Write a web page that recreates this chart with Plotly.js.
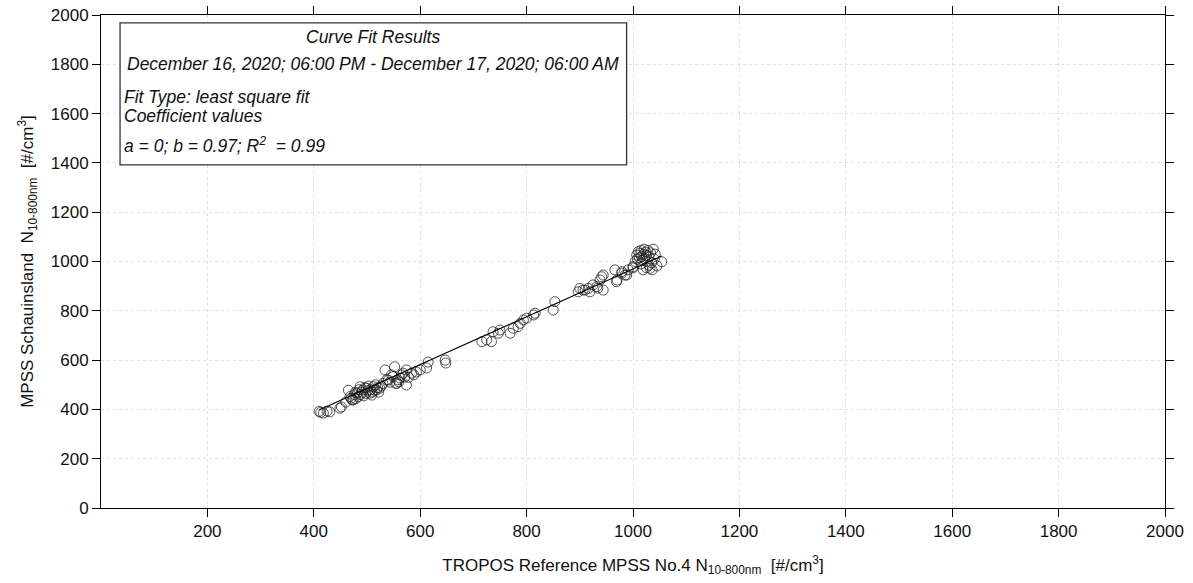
<!DOCTYPE html>
<html>
<head>
<meta charset="utf-8">
<script src="https://cdn.plot.ly/plotly-3.0.1.min.js"></script>
<style>html,body{margin:0;padding:0;background:#fff;}#chart{width:1193px;height:583px;}</style>
</head>
<body>
<div id="chart"></div>
<script>
// Reference MPSS (x) vs Schauinsland MPSS (y), #/cm3
const refX = [410,413,418,425,430,449,452,460,465,468,470,472,474,476,478,479,481,483,485,487,488,490,492,494,496,498,499,501,503,505,507,509,510,512,514,516,518,520,522,524,527,530,534,537,540,543,546,549,552,554,556,558,560,562,565,568,571,574,574,578,584,588,593,600,612,615,647,648,
716,725,734,737,747,750,769,775,784,788,794,800,813,816,850,853,
897,900,906,910,916,919,925,932,934,938,941,944,944,966,969,970,979,979,985,988,991,1000,1000,1004,1007,1010,1012,1013,1015,1016,1018,1019,1020,1021,1022,1024,1025,1026,1028,1030,1032,1033,1036,1038,1040,1042,1045,1054,1008,1015,1025,1030,1035];
const schauY = [392,388,385,393,390,405,410,430,478,452,445,438,438,460,470,443,466,452,480,492,460,470,479,455,488,465,486,475,495,466,480,458,470,492,478,500,479,488,470,486,495,505,560,520,519,510,540,533,573,505,506,520,512,527,540,547,531,560,499,530,547,540,552,560,568,592,600,588,
675,682,675,715,709,722,709,729,736,749,763,770,783,790,803,837,
877,891,884,884,891,877,905,898,892,925,938,945,884,966,918,925,959,953,945,945,966,979,974,1000,1026,1040,1015,1033,1045,1020,1005,966,1030,1050,1012,1038,1025,1000,1045,1020,972,1035,966,1050,1010,1030,982,999,1010,990,975,985,995];
// Fit coefficients
const fitA = 0;
const fitB = 0.97;
const fitR2 = 0.99;
const tickValsX = [200,400,600,800,1000,1200,1400,1600,1800,2000];
const tickValsY = [0,200,400,600,800,1000,1200,1400,1600,1800,2000];

const xmin = Math.min(...refX), xmax = Math.max(...refX);
const fitX = [xmin, xmax];
const fitY = fitX.map(v => fitA + fitB * v);

const font = 'Liberation Sans, Arial, sans-serif';
const traces = [
  {x: refX, y: schauY, type: 'scatter', mode: 'markers',
   marker: {symbol: 'circle-open', size: 10, color: 'rgba(30,30,30,0.75)', line: {width: 1}},
   hoverinfo: 'x+y', showlegend: false},
  {x: fitX, y: fitY, type: 'scatter', mode: 'lines',
   line: {color: '#000', width: 1.2}, showlegend: false}
];

const axisCommon = {
  range: [0, 2000], showline: true, linecolor: '#000', linewidth: 1, mirror: 'ticks',
  ticks: 'outside', ticklen: 8, tickcolor: '#000', tickwidth: 1,
  showgrid: true, gridcolor: '#e0e0e0', griddash: 'dot', gridwidth: 1,
  zeroline: false, tickfont: {family: font, size: 17, color: '#111'}
};

const layout = {
  width: 1193, height: 583,
  margin: {l: 101, r: 28, t: 15, b: 75},
  paper_bgcolor: '#fff', plot_bgcolor: '#fff',
  font: {family: font, color: '#111'},
  xaxis: Object.assign({}, axisCommon, {
    tickmode: 'array', tickvals: tickValsX, ticktext: tickValsX.map(String),
    title: {text: 'TROPOS Reference MPSS No.4 N<sub>10-800nm</sub>  [#/cm<sup>3</sup>]', font: {family: font, size: 17, color: '#111'}, standoff: 18}
  }),
  yaxis: Object.assign({}, axisCommon, {
    tickmode: 'array', tickvals: tickValsY, ticktext: tickValsY.map(String),
    title: {text: 'MPSS Schauinsland  N<sub>10-800nm</sub>  [#/cm<sup>3</sup>]', font: {family: font, size: 17, color: '#111'}, standoff: 12}
  }),
  shapes: [
    {type: 'rect', xref: 'paper', yref: 'paper', x0: 0.0179, x1: 0.494, y0: 0.696, y1: 0.984,
     line: {color: '#333', width: 1.3}, fillcolor: '#fff', layer: 'above'}
  ],
  annotations: [
    {xref: 'paper', yref: 'paper', x: 0.2555, y: 0.955, text: '<i>Curve Fit Results</i>', showarrow: false, xanchor: 'center', yanchor: 'middle', font: {family: font, size: 17.5, color: '#111'}},
    {xref: 'paper', yref: 'paper', x: 0.2555, y: 0.901, text: '<i>December 16, 2020; 06:00 PM - December 17, 2020; 06:00 AM</i>', showarrow: false, xanchor: 'center', yanchor: 'middle', font: {family: font, size: 17.5, color: '#111'}},
    {xref: 'paper', yref: 'paper', x: 0.0195, y: 0.834, text: '<i>Fit Type: least square fit</i>', showarrow: false, xanchor: 'left', yanchor: 'middle', font: {family: font, size: 17.5, color: '#111'}},
    {xref: 'paper', yref: 'paper', x: 0.0195, y: 0.795, text: '<i>Coefficient values</i>', showarrow: false, xanchor: 'left', yanchor: 'middle', font: {family: font, size: 17.5, color: '#111'}},
    {xref: 'paper', yref: 'paper', x: 0.0195, y: 0.736, text: '<i>a = ' + fitA + '; b = ' + fitB.toFixed(2) + '; R<sup>2</sup>  = ' + fitR2.toFixed(2) + '</i>', showarrow: false, xanchor: 'left', yanchor: 'middle', font: {family: font, size: 17.5, color: '#111'}}
  ]
};

Plotly.newPlot('chart', traces, layout, {staticPlot: true, displayModeBar: false});
</script>
</body>
</html>
